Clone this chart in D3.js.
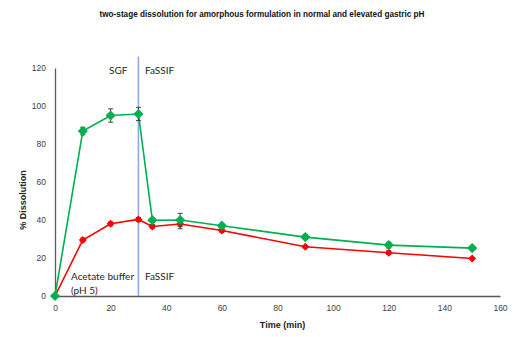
<!DOCTYPE html>
<html>
<head>
<meta charset="utf-8">
<script src="https://cdn.jsdelivr.net/npm/d3@7"></script>
<style>
  body { margin: 0; background: #fff; }
</style>
</head>
<body>
<script>
// Sampling times (min)
const times = [0, 10, 20, 30, 35, 45, 60, 90, 120, 150];

// Normal gastric pH: SGF then FaSSIF
const sgfValues = [0, 86.8, 95, 95.8, 39.9, 40, 37, 31, 26.8, 25.2];
const sgfErrors = [0, 2, 3.5, 3.5, 1, 3.5, 1, 1, 1.5, 1];

// Elevated gastric pH: acetate buffer then FaSSIF
const acetateValues = [0, 29.5, 38, 40.3, 36.6, 37.9, 34.5, 25.9, 22.8, 19.7];
const acetateErrors = [0, 1, 1, 1, 1, 2.5, 1, 0.5, 1, 0.5];

const xTicks = [0, 20, 40, 60, 80, 100, 120, 140, 160];
const yTicks = [0, 20, 40, 60, 80, 100, 120];
const switchTime = 30;

const width = 516, height = 337;
const margin = { top: 68, right: 16, bottom: 41, left: 55 };

const svg = d3.select('body')
  .append('svg')
    .attr('width', width)
    .attr('height', height);

const xScale = d3.scaleLinear()
  .domain([0, 160])
  .range([margin.left, width - margin.right]);

const yScale = d3.scaleLinear()
  .domain([0, 120])
  .range([height - margin.bottom, margin.top]);

const tickFont = '"Liberation Sans Narrow", "Liberation Sans", Arial, sans-serif';

// Title
svg.append('text')
  .attr('x', 262)
  .attr('y', 17)
  .attr('text-anchor', 'middle')
  .attr('textLength', 325)
  .attr('lengthAdjust', 'spacingAndGlyphs')
  .style('font-family', tickFont)
  .style('font-size', '9.5px')
  .style('font-weight', 'bold')
  .style('fill', '#111')
  .text('two-stage dissolution for amorphous formulation in normal and elevated gastric pH');

// Axes
const yAxis = svg.append('g')
  .attr('transform', `translate(${margin.left},0)`)
  .call(d3.axisLeft(yScale).tickValues(yTicks).tickSize(0).tickPadding(9));

const xAxis = svg.append('g')
  .attr('transform', `translate(0,${height - margin.bottom})`)
  .call(d3.axisBottom(xScale).tickValues(xTicks).tickSize(0).tickPadding(9));

[xAxis, yAxis].forEach(ax => {
  ax.select('.domain').attr('stroke', '#595959').attr('stroke-width', 1.3);
  ax.selectAll('text')
    .style('font-family', tickFont)
    .style('font-size', '8.5px')
    .style('fill', '#404040');
});

// Axis titles
svg.append('text')
  .attr('transform', `translate(26,${(yScale(0) + yScale(120)) / 2 + 18}) rotate(-90)`)
  .attr('text-anchor', 'middle')
  .style('font-family', tickFont)
  .style('font-size', '9px')
  .style('font-weight', 'bold')
  .style('fill', '#222')
  .text('% Dissolution');

svg.append('text')
  .attr('x', xScale(80) + 5)
  .attr('y', 328)
  .attr('text-anchor', 'middle')
  .style('font-family', tickFont)
  .style('font-size', '9px')
  .style('font-weight', 'bold')
  .style('fill', '#222')
  .text('Time (min)');

// Media change marker
svg.append('line')
  .attr('x1', xScale(switchTime))
  .attr('x2', xScale(switchTime))
  .attr('y1', yScale(126))
  .attr('y2', yScale(0))
  .attr('stroke', '#8faadc')
  .attr('stroke-width', 1.6);

// Stage labels
const labelFont = 'Lato, "Open Sans", sans-serif';
const stageLabels = [
  { t: 'SGF', x: 109, y: 74 },
  { t: 'FaSSIF', x: 145, y: 74 },
  { t: 'Acetate buffer', x: 71, y: 280 },
  { t: '(pH 5)', x: 71, y: 294 },
  { t: 'FaSSIF', x: 145, y: 280 }
];
svg.selectAll('text.stage')
  .data(stageLabels)
  .enter()
  .append('text')
    .attr('class', 'stage')
    .attr('x', d => d.x)
    .attr('y', d => d.y)
    .style('font-family', labelFont)
    .style('font-size', '10px')
    .style('fill', '#262626')
    .text(d => d.t);

// Series
const series = [
  { values: acetateValues, errors: acetateErrors, color: '#ff0000', size: 40 },
  { values: sgfValues, errors: sgfErrors, color: '#00b050', size: 66 }
];

const line = d3.line()
  .x(d => xScale(d.t))
  .y(d => yScale(d.v));

series.forEach(s => {
  const pts = times.map((t, i) => ({ t: t, v: s.values[i], e: s.errors[i] }));

  svg.append('path')
    .datum(pts)
    .attr('d', line)
    .attr('fill', 'none')
    .attr('stroke', s.color)
    .attr('stroke-width', 1.6);

  // Error bars
  const eb = svg.append('g')
    .selectAll('g')
    .data(pts.filter(d => d.e > 0))
    .enter()
    .append('g')
      .attr('stroke', '#404040')
      .attr('stroke-width', 1);
  eb.append('line')
    .attr('x1', d => xScale(d.t)).attr('x2', d => xScale(d.t))
    .attr('y1', d => yScale(d.v + d.e)).attr('y2', d => yScale(d.v - d.e));
  eb.append('line')
    .attr('x1', d => xScale(d.t) - 2.5).attr('x2', d => xScale(d.t) + 2.5)
    .attr('y1', d => yScale(d.v + d.e)).attr('y2', d => yScale(d.v + d.e));
  eb.append('line')
    .attr('x1', d => xScale(d.t) - 2.5).attr('x2', d => xScale(d.t) + 2.5)
    .attr('y1', d => yScale(d.v - d.e)).attr('y2', d => yScale(d.v - d.e));

  svg.append('g')
    .selectAll('path')
    .data(pts)
    .enter()
    .append('path')
      .attr('transform', d => `translate(${xScale(d.t)},${yScale(d.v)})`)
      .attr('d', d3.symbol().type(d3.symbolDiamond2).size(s.size))
      .attr('fill', s.color);
});
</script>
</body>
</html>
